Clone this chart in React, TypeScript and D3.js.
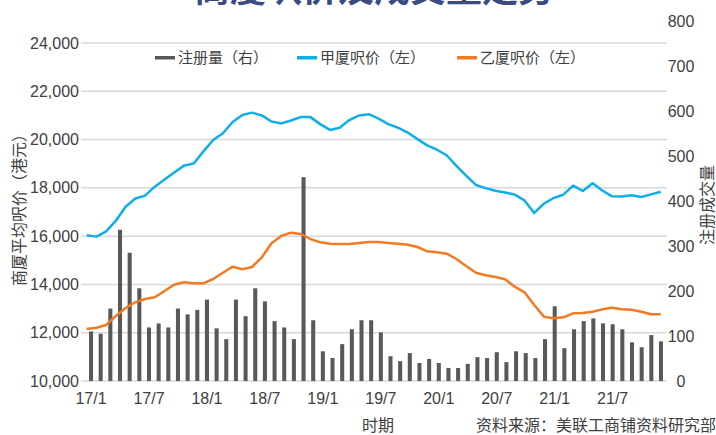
import React from "react";
import * as d3 from "d3";

const W = 716;
const H = 435;

const categories: string[] = d3.range(60).map((i) => `${17 + Math.floor(i / 12)}/${(i % 12) + 1}`);
const tickLabels = ["17/1", "17/7", "18/1", "18/7", "19/1", "19/7", "20/1", "20/7", "21/1", "21/7"];
const leftTicks = [10000, 12000, 14000, 16000, 18000, 20000, 22000, 24000];
const rightTicks = [0, 100, 200, 300, 400, 500, 600, 700, 800];

const registrations = [
  110, 105, 161, 336, 285, 206, 119, 128, 119, 161,
  148, 158, 181, 117, 93, 181, 144, 206, 177, 133,
  119, 93, 453, 135, 66, 51, 82, 115, 135, 135,
  108, 55, 44, 62, 40, 49, 40, 29, 29, 38,
  53, 51, 64, 42, 66, 62, 51, 93, 166, 73,
  115, 133, 139, 128, 126, 115, 86, 75, 102, 88,
];

const gradeA = [
  16040, 15980, 16200, 16640, 17220, 17560, 17680, 18050, 18350, 18640,
  18920, 19010, 19510, 19980, 20260, 20730, 21020, 21115, 21000, 20750,
  20670, 20790, 20930, 20930, 20640, 20400, 20490, 20810, 21000, 21050,
  20870, 20640, 20490, 20290, 20020, 19760, 19580, 19350, 18910, 18510,
  18120, 17990, 17880, 17810, 17720, 17480, 16960, 17350, 17580, 17720,
  18090, 17870, 18190, 17890, 17650, 17640, 17690, 17620, 17730, 17840,
];

const gradeB = [
  12150, 12208, 12320, 12692, 13024, 13260, 13396, 13466, 13728, 13990,
  14087, 14046, 14046, 14225, 14486, 14735, 14626, 14722, 15124, 15704,
  16006, 16143, 16089, 15882, 15744, 15687, 15675, 15675, 15716, 15757,
  15757, 15716, 15689, 15647, 15550, 15370, 15330, 15273, 15053, 14763,
  14486, 14377, 14308, 14212, 13906, 13674, 13148, 12665, 12597, 12637,
  12803, 12817, 12871, 12968, 13037, 12968, 12954, 12871, 12762, 12762,
];

const legendItems = [
  { label: "注册量（右）", color: "#595959" },
  { label: "甲厦呎价（左）", color: "#0EAEEB" },
  { label: "乙厦呎价（左）", color: "#F27A22" },
];

const NUM_FONT = "'Liberation Sans', Arial, sans-serif";
const CJK_FONT = "'Noto Sans CJK SC', 'Noto Sans', sans-serif";

export default function App() {
  const x = d3.scaleBand<string>().domain(categories).range([86.2, 665.8]).paddingInner(0.58).paddingOuter(0.29);
  const xp = d3.scalePoint<string>().domain(categories).range([86.7, 660.7]);
  const yL = d3.scaleLinear().domain([10000, 24000]).range([381, 43]);
  const yR = d3.scaleLinear().domain([0, 800]).range([381, 21]);

  const lineA = d3.line<number>().x((_, i) => xp(categories[i])!).y((d) => yL(d));
  const center = (c: string) => x(c)! + x.bandwidth() / 2;

  const legendX = [155, 297, 457];

  return (
    <svg width={W} height={H} style={{ position: "absolute", left: 0, top: 0, background: "#fff" }}>
      <text x={374} y={2} textAnchor="middle" fontFamily={CJK_FONT} fontWeight="bold" fontSize={36} fill="#3B4A80">
        商厦呎价及成交量走势
      </text>
      {leftTicks.map((t) => (
        <g key={t}>
          <line x1={81} x2={667} y1={yL(t)} y2={yL(t)} stroke="#D9D9D9" strokeWidth={1.5} />
          <text x={79} y={yL(t)} dy="0.35em" textAnchor="end" fontFamily={NUM_FONT} fontSize={16} fill="#404040">
            {d3.format(",")(t)}
          </text>
        </g>
      ))}
      {rightTicks.map((t) => (
        <text key={t} x={681} y={yR(t)} dy="0.35em" textAnchor="middle" fontFamily={NUM_FONT} fontSize={16} fill="#404040">
          {t}
        </text>
      ))}
      {registrations.map((v, i) => (
        <rect key={i} x={x(categories[i])} y={yR(v)} width={x.bandwidth()} height={yR(0) - yR(v)} fill="#595959" />
      ))}
      <path d={lineA(gradeA)!} fill="none" stroke="#0EAEEB" strokeWidth={2.5} strokeLinejoin="round" />
      <path d={lineA(gradeB)!} fill="none" stroke="#F27A22" strokeWidth={2.5} strokeLinejoin="round" />
      {tickLabels.map((t) => (
        <text key={t} x={center(t)} y={404} textAnchor="middle" fontFamily={NUM_FONT} fontSize={16} fill="#404040">
          {t}
        </text>
      ))}
      {legendItems.map((it, i) => (
        <g key={it.label}>
          <rect x={legendX[i]} y={56} width={20} height={3.5} fill={it.color} />
          <text x={legendX[i] + 23} y={58} dy="0.36em" fontFamily={CJK_FONT} fontSize={15} fill="#404040">
            {it.label}
          </text>
        </g>
      ))}
      <text transform="translate(25,206) rotate(-90)" textAnchor="middle" fontFamily={CJK_FONT} fontSize={16} fill="#404040">
        商厦平均呎价（港元）
      </text>
      <text transform="translate(713,205) rotate(-90)" textAnchor="middle" fontFamily={CJK_FONT} fontSize={16} fill="#404040">
        注册成交量
      </text>
      <text x={378} y={431} textAnchor="middle" fontFamily={CJK_FONT} fontSize={16} fill="#404040">
        时期
      </text>
      <text x={716} y={431} textAnchor="end" fontFamily={CJK_FONT} fontSize={16} fill="#404040">
        资料来源：美联工商铺资料研究部
      </text>
    </svg>
  );
}
